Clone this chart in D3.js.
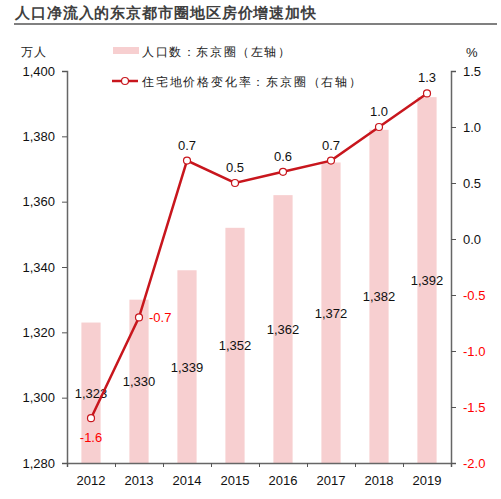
<!DOCTYPE html>
<html><head><meta charset="utf-8">
<script src="https://cdn.jsdelivr.net/npm/d3@7/dist/d3.min.js"></script>
<style>body{margin:0;background:#fff}svg{display:block}text{font-family:"Liberation Sans",Arial,sans-serif}</style>
</head><body><svg id="c" width="501" height="499"></svg>
<script>
const years = ["2012","2013","2014","2015","2016","2017","2018","2019"];
const population = [1323,1330,1339,1352,1362,1372,1382,1392];
const priceChange = [-1.6,-0.7,0.7,0.5,0.6,0.7,1.0,1.3];
const leftTicks = [1280,1300,1320,1340,1360,1380,1400];
const rightTicks = [-2.0,-1.5,-1.0,-0.5,0.0,0.5,1.0,1.5];

const svg = d3.select("#c");
const cjk = '"Noto Sans CJK SC",sans-serif';
const L = 67, R = 451, T = 71, B = 463;
const barColor = "#f7cfd0", lineColor = "#c8161d";
const f1 = d => d3.format(".1f")(d).replace("\u2212","-");

// title
svg.append("text").attr("x",15).attr("y",18).attr("font-family",cjk).attr("font-size",15).attr("font-weight","bold").attr("fill","#404040").attr("letter-spacing",0.9).text("人口净流入的东京都市圈地区房价增速加快");
svg.append("line").attr("x1",14).attr("x2",497).attr("y1",24).attr("y2",24).attr("stroke","#808080").attr("stroke-width",2);

const x = d3.scaleBand().domain(years).range([L,R]).paddingInner(0.6).paddingOuter(0.3);
const yL = d3.scaleLinear().domain([1280,1400]).range([B,T]);
const yR = d3.scaleLinear().domain([-2,1.5]).range([B,T]);

// bars
svg.selectAll("rect.bar").data(population).join("rect").attr("class","bar")
  .attr("x",(d,i)=>x(years[i])).attr("width",x.bandwidth())
  .attr("y",d=>yL(d)).attr("height",d=>B-yL(d)).attr("fill",barColor);

// bar labels (centered vertically in bar)
svg.selectAll("text.bl").data(population).join("text").attr("class","bl")
  .attr("x",(d,i)=>x(years[i])+x.bandwidth()/2).attr("y",d=>(yL(d)+B)/2+5)
  .attr("text-anchor","middle").attr("font-size",13).attr("fill","#111")
  .text(d=>d3.format(",")(d));

// axes
const fmtL = d3.format(",");
const axL = svg.append("g").attr("transform",`translate(${L},0)`)
  .call(d3.axisLeft(yL).tickValues(leftTicks).tickFormat(fmtL).tickSize(5).tickPadding(7));
const axR = svg.append("g").attr("transform",`translate(${R},0)`)
  .call(d3.axisRight(yR).tickValues(rightTicks).tickFormat(f1).tickSize(5).tickPadding(7));
const xs = d3.scaleLinear().domain([0,8]).range([L,R]);
const axX = svg.append("g").attr("transform",`translate(0,${B})`)
  .call(d3.axisBottom(xs).tickValues(d3.range(0,9)).tickFormat("").tickSize(4));
[axL,axR,axX].forEach(g=>{
  g.select(".domain").attr("stroke","#666").attr("stroke-width",1.5);
  g.selectAll(".tick line").attr("stroke","#555");
  g.selectAll("text").attr("font-size",13).attr("fill","#111").attr("font-family",'"Liberation Sans",Arial,sans-serif');
});
axR.selectAll(".tick text").attr("fill",d=>d<0?"#ff0000":"#111");
// x labels
svg.selectAll("text.xl").data(years).join("text").attr("class","xl")
  .attr("x",d=>x(d)+x.bandwidth()/2).attr("y",B+22).attr("text-anchor","middle")
  .attr("font-size",13).attr("fill","#111").text(d=>d);

// unit labels
svg.append("text").attr("x",21).attr("y",56).attr("font-family",cjk).attr("font-size",12).attr("fill","#222").attr("letter-spacing",1).text("万人");
svg.append("text").attr("x",466).attr("y",57).attr("font-size",13).attr("fill","#222").text("%");

// line
const pts = priceChange.map((v,i)=>[x(years[i])+x.bandwidth()/2, yR(v)]);
svg.append("path").attr("d",d3.line()(pts)).attr("fill","none").attr("stroke",lineColor).attr("stroke-width",2.5);
svg.selectAll("circle.pt").data(pts).join("circle").attr("class","pt")
  .attr("cx",d=>d[0]).attr("cy",d=>d[1]).attr("r",3.5).attr("fill","#fff").attr("stroke",lineColor).attr("stroke-width",1.2);

// line labels
svg.selectAll("text.ll").data(priceChange).join("text").attr("class","ll")
  .attr("x",(d,i)=> i===1 ? pts[i][0]+10 : pts[i][0])
  .attr("y",(d,i)=> i===0 ? pts[i][1]+24 : (i===1 ? pts[i][1]+5 : pts[i][1]-11))
  .attr("text-anchor",(d,i)=> i===1 ? "start" : "middle")
  .attr("font-size",13).attr("fill",d=>d<0?"#ff0000":"#111")
  .text(d=>f1(d));

// legend
svg.append("rect").attr("x",113).attr("y",47).attr("width",26).attr("height",7).attr("fill",barColor);
svg.append("text").attr("x",142).attr("y",56).attr("font-family",cjk).attr("font-size",12).attr("fill","#222").attr("letter-spacing",1.6).text("人口数：东京圈（左轴）");
svg.append("line").attr("x1",112).attr("x2",138).attr("y1",81).attr("y2",81).attr("stroke",lineColor).attr("stroke-width",2.5);
svg.append("circle").attr("cx",125).attr("cy",81).attr("r",3.5).attr("fill","#fff").attr("stroke",lineColor).attr("stroke-width",1.2);
svg.append("text").attr("x",142).attr("y",86).attr("font-family",cjk).attr("font-size",12).attr("fill","#222").attr("letter-spacing",1.8).text("住宅地价格变化率：东京圈（右轴）");
</script></body></html>
